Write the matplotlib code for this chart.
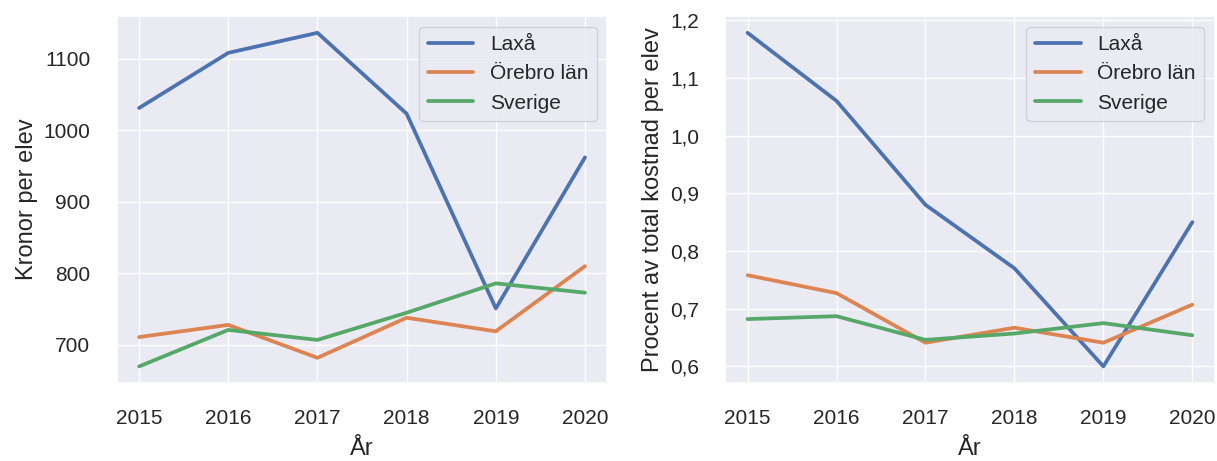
import numpy as np
import matplotlib
matplotlib.use("Agg")
import matplotlib.pyplot as plt
import seaborn as sns
from matplotlib.ticker import FuncFormatter, MultipleLocator

# ─── Data ─────────────────────────────────────────────────────────────────────
years = [2015, 2016, 2017, 2018, 2019, 2020]
series_names = ["Laxå", "Örebro län", "Sverige"]

# Kronor per elev
kr_laxa    = [1031, 1108, 1136, 1023, 751, 962]
kr_orebro  = [711, 728, 682, 738, 719, 810]
kr_sverige = [670, 721, 707, 745, 786, 773]

# Procent av total kostnad per elev
pct_laxa    = [1.178, 1.06, 0.88, 0.77, 0.60, 0.85]
pct_orebro  = [0.758, 0.727, 0.641, 0.667, 0.641, 0.707]
pct_sverige = [0.682, 0.687, 0.646, 0.657, 0.675, 0.654]

# ─── Style ────────────────────────────────────────────────────────────────────
sns.set_theme(style="darkgrid")
plt.rcParams["font.family"] = ["Liberation Sans", "DejaVu Sans"]
colors = sns.color_palette()[:3]

fig = plt.figure(figsize=(12.17, 4.61), dpi=100)
ax1 = fig.add_axes([0.096, 0.169, 0.403, 0.796])
ax2 = fig.add_axes([0.596, 0.169, 0.402, 0.796])

for ax, data in [(ax1, [kr_laxa, kr_orebro, kr_sverige]),
                 (ax2, [pct_laxa, pct_orebro, pct_sverige])]:
    for name, vals, c in zip(series_names, data, colors):
        ax.plot(years, vals, color=c, lw=2.7, label=name)
    ax.set_xticks(years)
    ax.set_xlabel("År", fontsize=17, labelpad=7)
    ax.tick_params(labelsize=15, pad=13)
    ax.legend(loc="upper right", fontsize=15, handlelength=2.2)

ax1.set_ylabel("Kronor per elev", fontsize=17)
ax1.yaxis.set_major_locator(MultipleLocator(100))

ax2.set_ylabel("Procent av total kostnad per elev", fontsize=17)
ax2.yaxis.set_major_locator(MultipleLocator(0.1))
ax2.yaxis.set_major_formatter(FuncFormatter(lambda v, p: f"{v:.1f}".replace(".", ",")))

fig.savefig("out.png", dpi=100)
